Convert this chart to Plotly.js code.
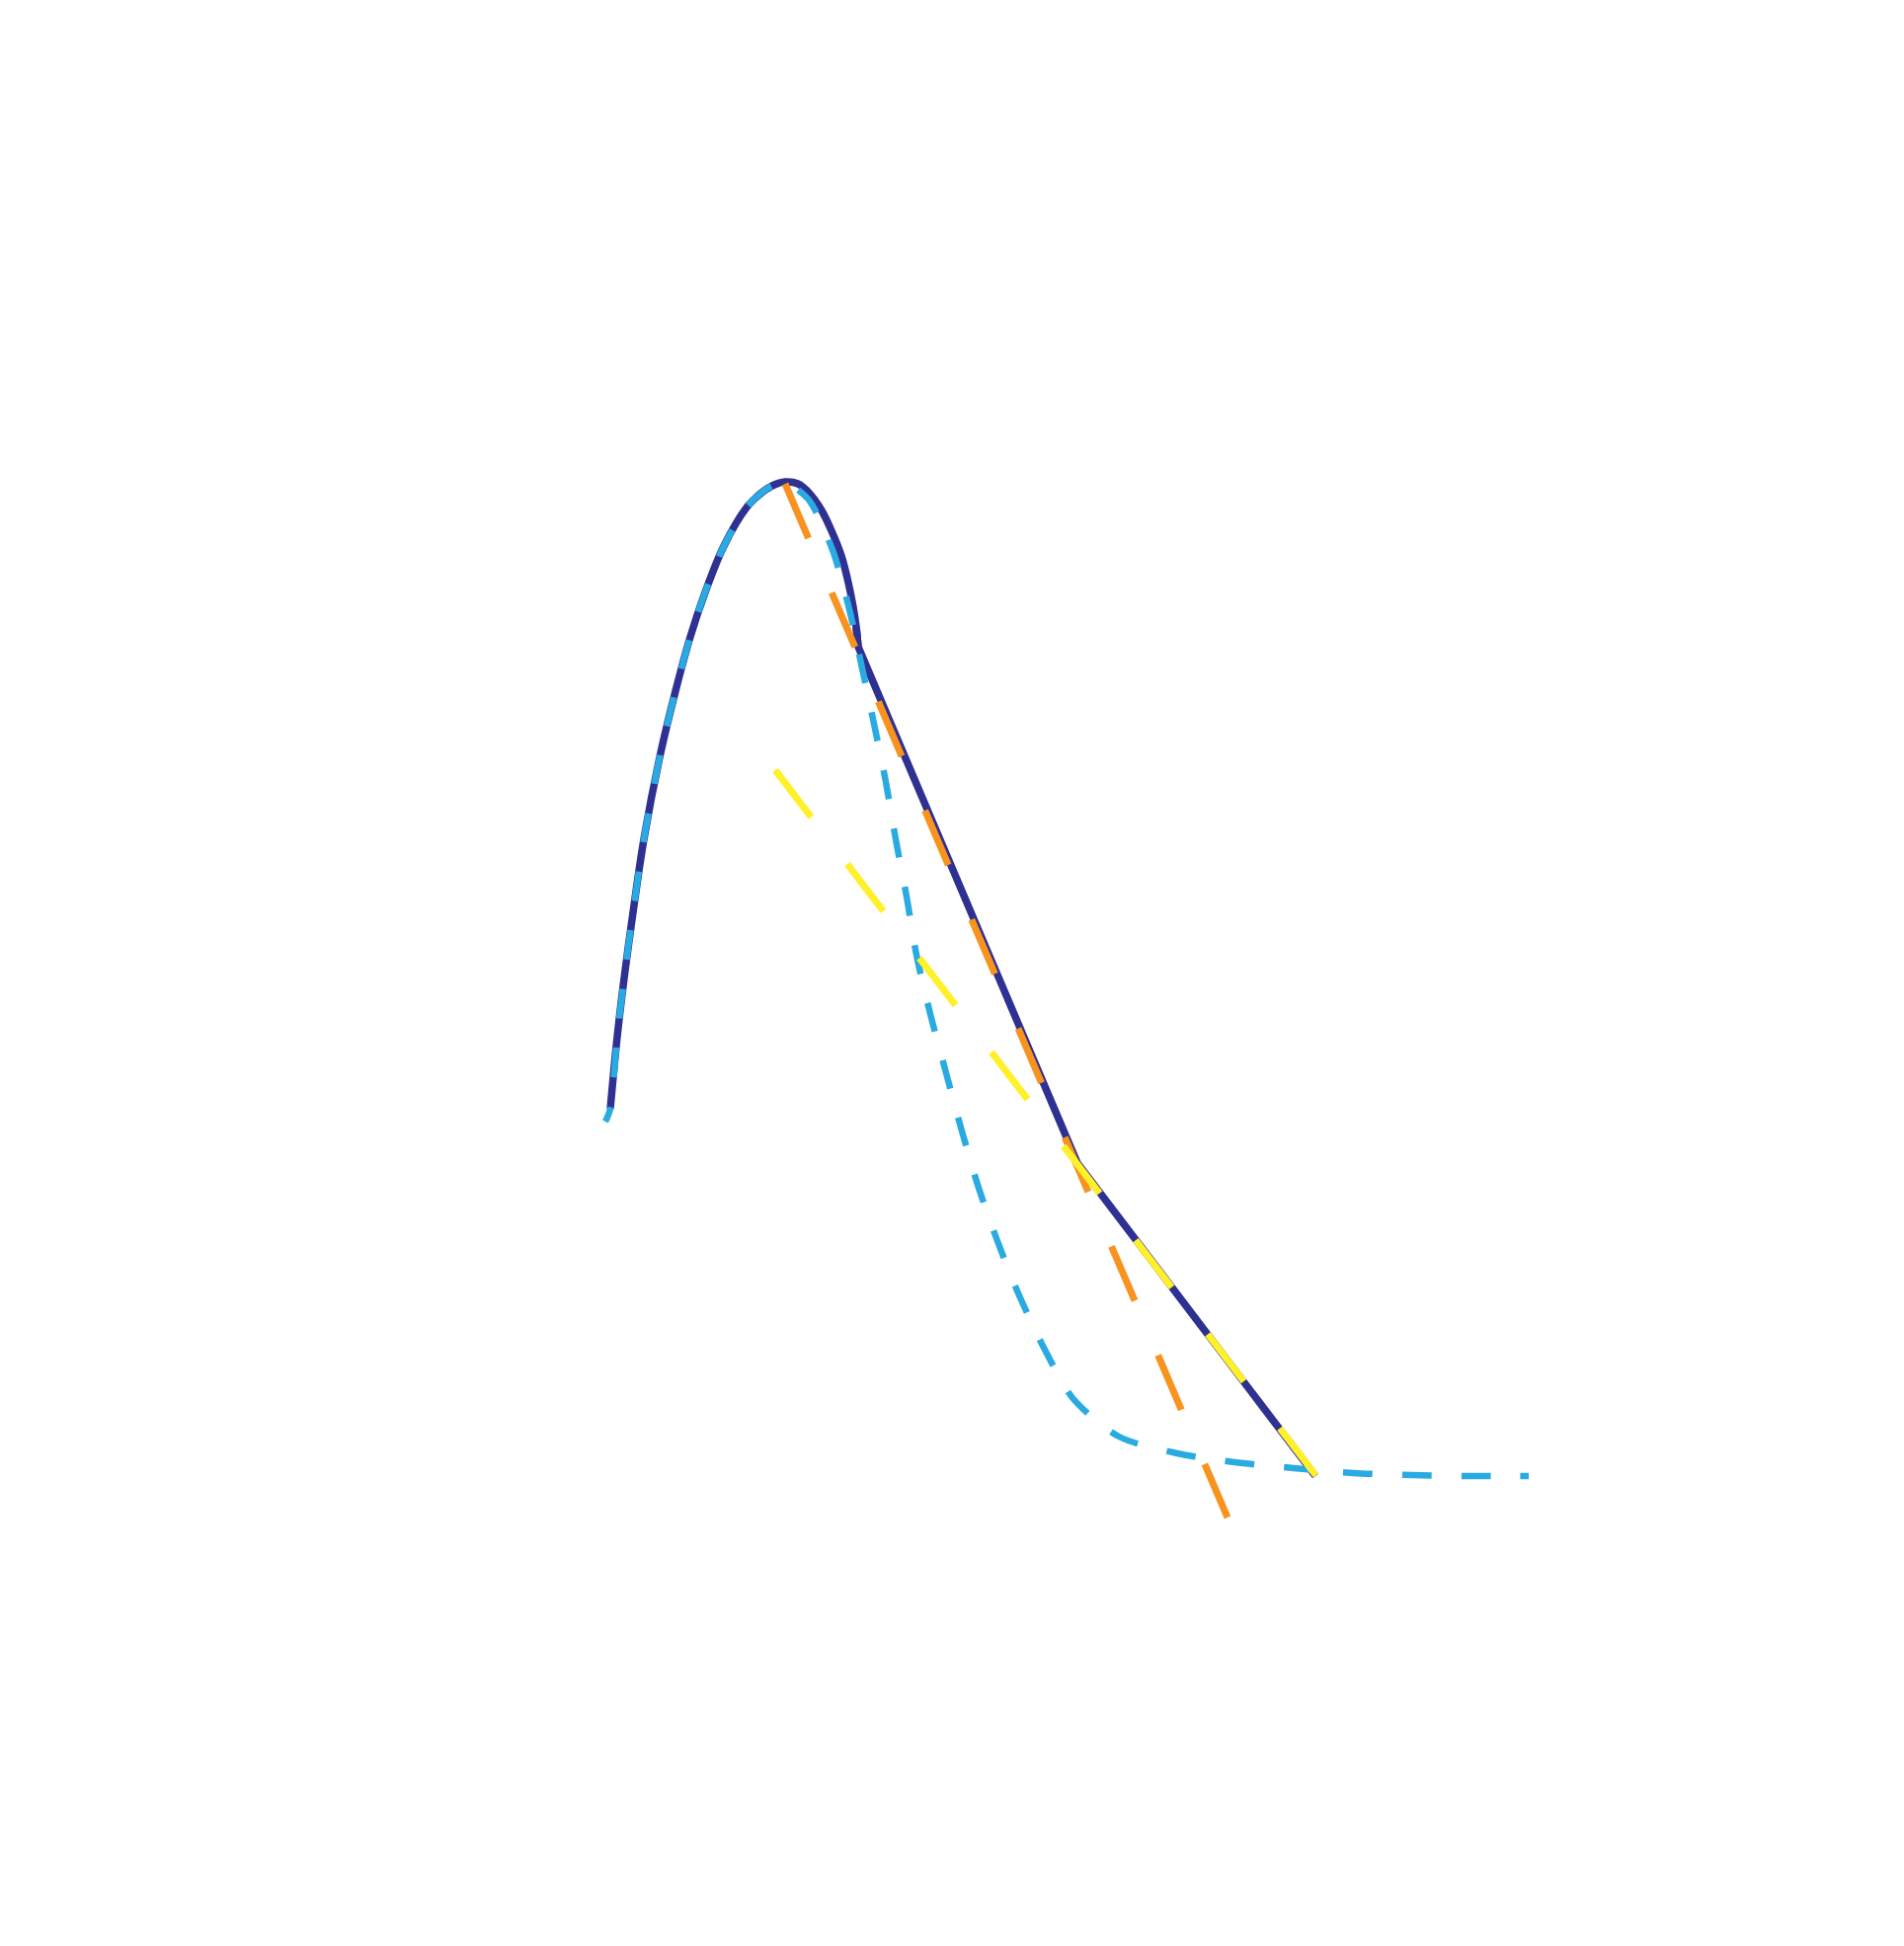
<!DOCTYPE html>
<html>
<head>
<meta charset="utf-8">
<script src="https://cdn.plot.ly/plotly-3.0.1.min.js"></script>
<style>html,body{margin:0;padding:0;background:#fff;}#chart{width:1928px;height:1971px;}</style>
</head>
<body>
<div id="chart"></div>
<script>
// Envelope curve (solid navy): curved part up to the first corner, then two straight pieces
const envX = [0.05,0.12,0.20,0.29,0.39,0.55,0.71,0.86,1.01,1.20,1.43,1.57,1.69,1.82,1.95,2.07,2.19,2.30,2.39,2.46,2.51,2.54,2.56,4.78,7.19];
const envY = [4.15,4.88,5.55,6.21,6.88,7.71,8.38,8.93,9.38,9.85,10.24,10.38,10.46,10.50,10.48,10.38,10.21,9.98,9.75,9.48,9.23,9.03,8.83,3.60,0.43];
const envCornerIndex = 22; // index of the first corner (end of the curved part)

// Smooth approximation (light blue dashed)
const smoothX = [0.00,0.05,0.12,0.20,0.29,0.39,0.55,0.71,0.86,1.01,1.20,1.43,1.57,1.69,1.82,2.05,2.30,2.47,2.60,2.72,2.84,2.94,3.05,3.15,3.29,3.44,3.60,3.77,3.97,4.19,4.45,4.74,5.20,5.79,6.37,6.97,7.57,8.17,8.77,9.35];
const smoothY = [4.02,4.15,4.88,5.55,6.21,6.88,7.71,8.38,8.93,9.38,9.85,10.24,10.38,10.46,10.49,10.33,9.81,9.21,8.61,8.05,7.46,6.88,6.30,5.71,5.11,4.55,3.96,3.38,2.81,2.26,1.71,1.21,0.83,0.66,0.57,0.51,0.46,0.44,0.43,0.43];

// Straight line 1 (orange dashed)
const line1X = [1.82, 6.30];
const line1Y = [10.48, 0.01];

// Straight line 2 (yellow dashed)
const line2X = [1.72, 7.20];
const line2Y = [7.58, 0.43];

let blueDash = ['16px','30px'];
for (let i = 0; i < 60; i++) { blueDash.push('30px','30px'); }

const navy = '#2E3192';
const traces = [
  {x: envX.slice(0, envCornerIndex + 1), y: envY.slice(0, envCornerIndex + 1), mode: 'lines',
   line: {color: navy, width: 7.5, shape: 'spline', smoothing: 1}, hoverinfo: 'skip'},
  {x: envX.slice(envCornerIndex - 1), y: envY.slice(envCornerIndex - 1), mode: 'lines',
   line: {color: navy, width: 7.5}, hoverinfo: 'skip'},
  {x: smoothX, y: smoothY, mode: 'lines', line: {color: '#29ABE2', width: 6.5, dash: blueDash.join(','), shape: 'spline', smoothing: 0.8}, hoverinfo: 'skip'},
  {x: line1X, y: line1Y, mode: 'lines', line: {color: '#F7931E', width: 7, dash: '60px,60px'}, hoverinfo: 'skip'},
  {x: line2X, y: line2Y, mode: 'lines', line: {color: '#FFF02A', width: 7, dash: '60px,60px'}, hoverinfo: 'skip'}
];

const layout = {
  width: 1928, height: 1971,
  margin: {l: 513, r: 265, t: 438, b: 333, pad: 0},
  paper_bgcolor: '#ffffff', plot_bgcolor: '#ffffff',
  showlegend: false,
  xaxis: {range: [-1, 10.5], visible: false, showgrid: false, zeroline: false, fixedrange: true},
  yaxis: {range: [-1, 11], visible: false, showgrid: false, zeroline: false, fixedrange: true}
};

Plotly.newPlot('chart', traces, layout, {displayModeBar: false, staticPlot: true});
</script>
</body>
</html>
